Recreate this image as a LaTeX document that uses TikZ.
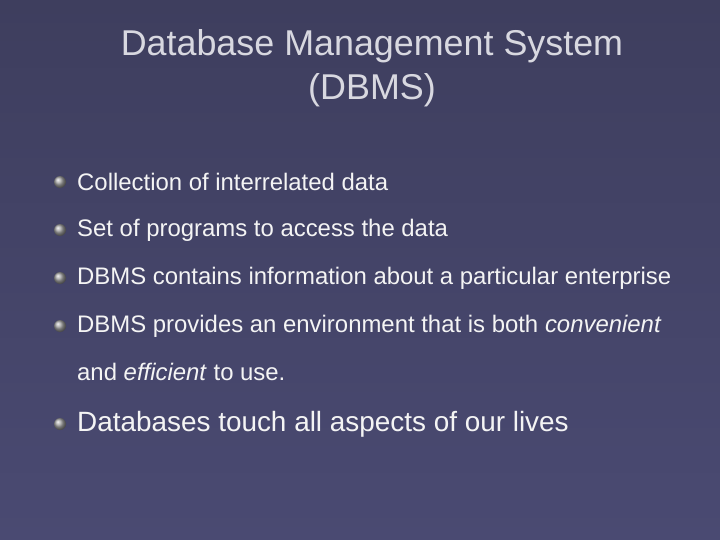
\documentclass[tikz,border=0pt]{standalone}
\usepackage{fontspec}
\setmainfont{Liberation Sans}
\definecolor{bgtop}{HTML}{3E3E5E}
\definecolor{bgbot}{HTML}{4A4A72}
\definecolor{titlec}{HTML}{D8D8E0}
\definecolor{bodyc}{HTML}{F4F4F4}
\begin{document}
\begin{tikzpicture}[x=1bp,y=-1bp,
  bul/.style={circle,inner sep=0pt,minimum size=12bp,ball color=gray!70!white},
  txt/.style={anchor=west,text=bodyc,inner sep=0pt,font=\fontsize{24}{28}\selectfont},
  big/.style={anchor=west,text=bodyc,inner sep=0pt,font=\fontsize{28}{32}\selectfont}]
\useasboundingbox (0,0) rectangle (720,540);
\shade[top color=bgtop,bottom color=bgbot] (0,0) rectangle (720,540);
\node[text=titlec,align=center,font=\fontsize{36}{44}\selectfont] (title) at (372,68) {Database Management System\\(DBMS)};
\node[bul] (b1) at (60,182) {};
\node[txt] (t1) at (77,182) {Collection of interrelated data};
\node[bul] (b2) at (60,230) {};
\node[txt] (t2) at (77,230) {Set of programs to access the data};
\node[bul] (b3) at (60,278) {};
\node[txt] (t3) at (77,278) {DBMS contains information about a particular enterprise};
\node[bul] (b4) at (60,326) {};
\node[txt] (t4) at (77,326) {DBMS provides an environment that is both \textit{convenient}};
\node[txt] (t5) at (77,372) {and \textit{efficient} to use.};
\node[bul] (b6) at (60,424) {};
\node[big] (t6) at (77,424) {Databases touch all aspects of our lives};
\end{tikzpicture}
\end{document}
